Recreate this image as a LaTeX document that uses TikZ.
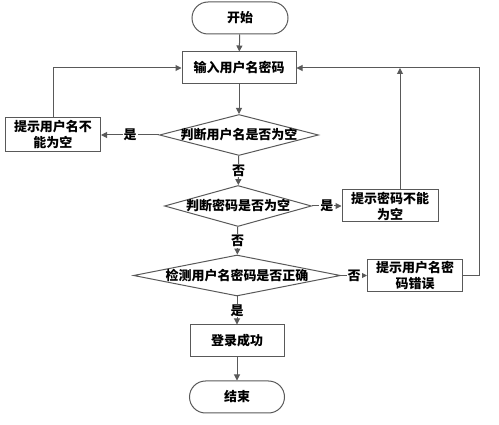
\documentclass[tikz,border=0pt]{standalone}
\usepackage{fontspec}
\setmainfont{Noto Sans CJK SC}
\usetikzlibrary{shapes.geometric,arrows.meta}
\begin{document}
\begin{tikzpicture}[x=1pt,y=-1pt,
	font=\fontsize{13}{16}\selectfont\bfseries,
	line/.style={draw=black!65,line width=1pt,-{Triangle[length=6pt,width=6pt]}},
	box/.style={draw=black!65,line width=1pt,minimum width=#1,minimum height=32pt,align=center,inner sep=0pt},
	term/.style={box=96pt,rounded corners=16pt},
	decide/.style={diamond,draw=black!65,line width=1pt,minimum width=#1,minimum height=41pt,inner sep=0pt},
	lab/.style={fill=white,inner sep=1pt}]
	\useasboundingbox (0,0) rectangle (499,425);
	\node[term] (start) at (240,18) {开始};
	\node[box=114pt] (input) at (239,68) {输入用户名密码};
	\node[decide=159pt,label=center:判断用户名是否为空] (d1) at (239,135) {};
	\node[box=95pt,minimum height=34pt] (tip1) at (53,135) {提示用户名不\\能为空};
	\node[decide=147pt,label=center:判断密码是否为空] (d2) at (238,206) {};
	\node[box=96pt] (tip2) at (390,206) {提示密码不能\\为空};
	\node[decide=207pt,label=center:检测用户名密码是否正确] (d3) at (237,275.5) {};
	\node[box=95pt] (tip3) at (415,275.5) {提示用户名密\\码错误};
	\node[box=94pt] (ok) at (237,341) {登录成功};
	\node[term,minimum width=95pt] (stop) at (237,397) {结束};
	% main column
	\draw[line] (start) -- (input);
	\draw[line] (input) -- (d1);
	\foreach \a/\b/\t in {d1/d2/否,d2/d3/否,d3/ok/是}
	\draw[line] (\a) -- node[lab]{\t} (\b);
	\draw[line] (ok) -- (stop);
	% branches
	\draw[line] (d1.west) -- node[lab]{是} (tip1.east);
	\draw[line] (tip1.north) |- (input.west);
	\draw[line] (d2.east) -- node[lab]{是} (tip2.west);
	\draw[line] ([xshift=10pt]tip2.north) -- ([xshift=10pt]tip2.north |- input.east);
	\draw[line] (d3.east) -- node[lab]{否} (tip3.west);
	\draw[line] (tip3.east) -- ++(16,0) |- (input.east);
\end{tikzpicture}
\end{document}
